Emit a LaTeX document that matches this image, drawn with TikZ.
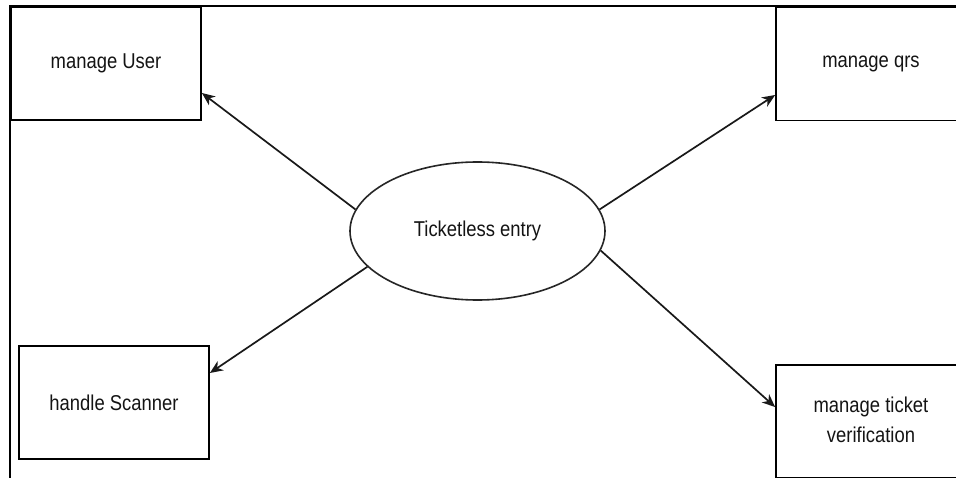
\documentclass[tikz,border=0pt]{standalone}
\usepackage{fontspec}
\setmainfont{Liberation Sans}
\usetikzlibrary{arrows.meta,shapes.geometric}

% slightly tall lettering
\newcommand{\tallText}[1]{\scalebox{0.97}[1.13]{#1}}

\tikzset{
  box/.style={draw=black, line width=1.8pt, fill=white, minimum width=190pt,
    minimum height=113pt, inner sep=0pt, align=center, text=black!92,
    font=\fontsize{19}{26}\selectfont},
  hub/.style={draw=black!85, line width=1.6pt, ellipse, minimum width=255pt,
    minimum height=138pt, inner sep=0pt, text=black!92,
    font=\fontsize{19}{26}\selectfont},
  link/.style={draw=black!90, line width=1.7pt,
    -{Stealth[length=13pt,width=11pt,inset=4pt]}},
  frame/.style={draw=black, line width=2.4pt}
}

\begin{document}
\begin{tikzpicture}[x=1pt,y=-1pt]
  \useasboundingbox (0,0) rectangle (956,478);
  \clip (0,0) rectangle (956,478);
  \fill[white] (0,0) rectangle (956,478);

  % outer frame: top and left edges
  \coordinate (fTL) at (10,6);
  \coordinate (fTR) at (958,6);
  \coordinate (fBL) at (10,480);
  \draw[frame] (fTR) -- (fTL) -- (fBL);

  % process boxes
  \node[box] (user)    at (106,63.5)  {\tallText{manage User}};
  \node[box] (qrs)     at (871,64)    {\tallText{manage qrs}};
  \node[box] (scanner) at (114,402.5) {\tallText{handle Scanner}};
  \node[box] (verif)   at (871,421.5)
    {\tallText{\begin{tabular}{@{}c@{}}manage ticket\\[1pt]verification\end{tabular}}};

  % central system
  \node[hub] (entry) at (477.5,231) {\tallText{Ticketless entry}};

  % connectors
  \draw[link] (entry.170) -- ([yshift=-29.5pt]user.east);
  \draw[link] (entry.10.6) -- ([yshift=-31pt]qrs.west);
  \draw[link] (entry.198.5) -- ([yshift=29.5pt]scanner.east);
  \draw[link] (entry.351) -- ([yshift=14.5pt]verif.west);
\end{tikzpicture}
\end{document}
